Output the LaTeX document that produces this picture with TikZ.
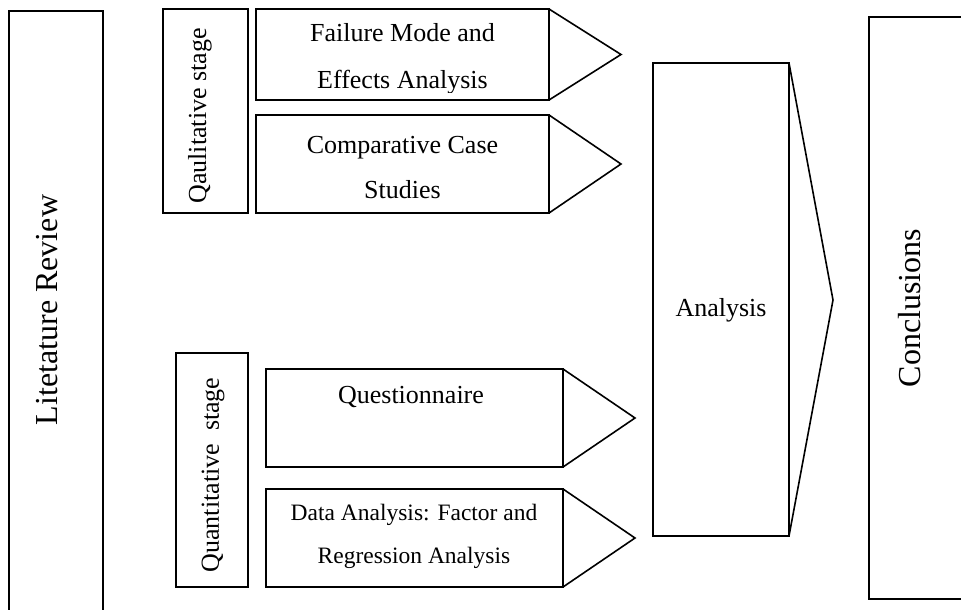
\documentclass[tikz,border=0pt]{standalone}
\usepackage{fontspec}
\setmainfont{Liberation Serif}
\begin{document}
\begin{tikzpicture}[x=1pt, y=-1pt, line width=1.6pt,
  box/.style={draw, rectangle, inner sep=0pt, outer sep=0pt},
  arrowhead/.style={draw, line join=miter},
  txt/.style={inner sep=0pt, align=center, font=\fontsize{26}{47}\selectfont},
  bigtxt/.style={inner sep=0pt, rotate=90, font=\fontsize{32}{38}\selectfont},
  stagetxt/.style={inner sep=0pt, rotate=90, font=\fontsize{26}{31}\selectfont}]
\useasboundingbox (0,0) rectangle (961,610);

% outer columns
\node[box, minimum width=94pt, minimum height=609pt] (lit) at (56,315.5) {};
\node[bigtxt] (littxt) at (47,310) {Litetature Review};
\node[box, minimum width=106pt, minimum height=582pt] (concl) at (922,308) {};
\node[bigtxt] (concltxt) at (910,308) {Conclusions};

% stage labels
\node[box, minimum width=85pt, minimum height=204pt] (qual) at (205.5,111) {};
\node[stagetxt] (qualtxt) at (200,116) {Qaulitative stage};
\node[box, minimum width=72pt, minimum height=234pt] (quant) at (212,470) {};
\node[stagetxt] (quanttxt) at (213,475) {Quantitative\ \ stage};

% method boxes with their arrow heads
\node[box, minimum width=293pt, minimum height=91pt] (fmea) at (402.5,54.5) {};
\coordinate (fmeatip) at (621,54.5);
\draw[arrowhead] (fmea.north east) -- (fmeatip) -- (fmea.south east);
\begin{scope}
  \clip (256,9) rectangle (549,92);
  \node[txt] (fmeatxt) at (402.5,58.5) {Failure Mode and\\Effects Analysis};
\end{scope}

\node[box, minimum width=293pt, minimum height=98pt] (comp) at (402.5,164) {};
\coordinate (comptip) at (621,164);
\draw[arrowhead] (comp.north east) -- (comptip) -- (comp.south east);
\node[txt, font=\fontsize{26}{45}\selectfont] (comptxt) at (402.5,167.5) {Comparative Case\\Studies};

\node[box, minimum width=297pt, minimum height=98pt] (ques) at (414.5,418) {};
\coordinate (questip) at (635,418);
\draw[arrowhead] (ques.north east) -- (questip) -- (ques.south east);
\node[txt] (questxt) at (411,397) {Questionnaire};

\node[box, minimum width=297pt, minimum height=98pt] (data) at (414.5,538) {};
\coordinate (datatip) at (635,538);
\draw[arrowhead] (data.north east) -- (datatip) -- (data.south east);
\node[txt, font=\fontsize{23.5}{43}\selectfont] (datatxt) at (414,536.5) {Data Analysis: Factor and\\Regression Analysis};

% analysis column
\node[box, minimum width=136pt, minimum height=473pt] (anal) at (721,299.5) {};
\coordinate (analtip) at (833,300);
\draw[arrowhead] (anal.north east) -- (analtip) -- (anal.south east);
\node[txt] (analtxt) at (721,310) {Analysis};
\end{tikzpicture}
\end{document}
